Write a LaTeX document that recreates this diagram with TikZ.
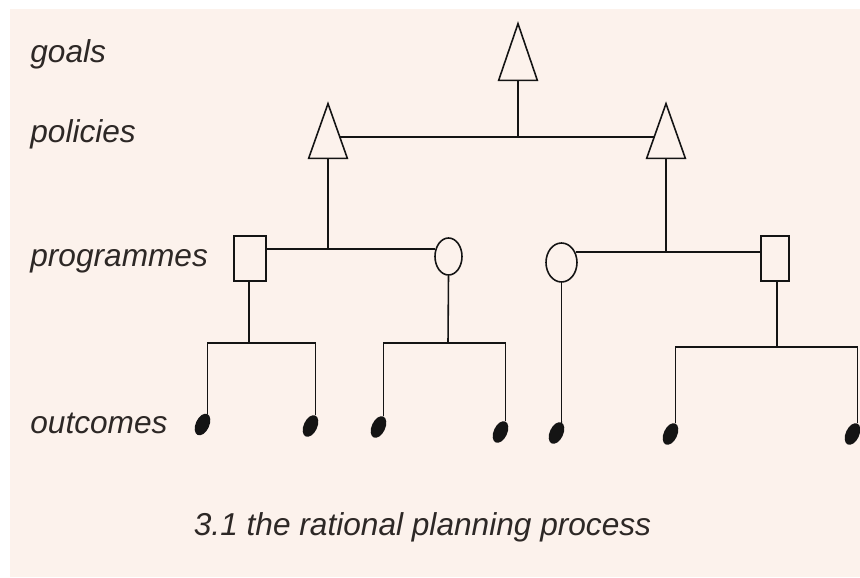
\documentclass[tikz,border=0pt]{standalone}
\usepackage{xcolor}
\usepackage{fontspec}
\setmainfont{Liberation Sans}
\usepackage{tikz}
\usetikzlibrary{shapes.geometric, positioning, calc}
\definecolor{paper}{RGB}{252,242,236}
\definecolor{ink}{RGB}{20,20,20}
\definecolor{pencil}{RGB}{45,40,38}
\tikzset{
  tri/.style={rectangle, draw=none, minimum width=0.76cm, minimum height=1.08cm,
    inner sep=0pt},
  box/.style={rectangle, draw=ink, fill=paper, minimum width=0.6cm,
    minimum height=0.9cm, inner sep=0pt, line width=0.9pt},
  ring/.style={ellipse, draw=ink, fill=paper, minimum width=0.56cm,
    minimum height=0.76cm, inner sep=0pt, line width=0.9pt},
  blob/.style={ellipse, fill=ink, minimum width=0.27cm, minimum height=0.46cm,
    inner sep=0pt, rotate=-25},
  levellabel/.style={anchor=base west, font=\itshape\fontsize{18}{20}\selectfont,
    color=pencil, inner sep=0pt},
  wire/.style={line width=0.9pt, color=ink}
}

\begin{document}
\begin{tikzpicture}
  \useasboundingbox (0,0) rectangle (17.2,11.54);
  \fill[paper] (0.2,0) rectangle (17.2,11.36);

  % ── Level labels ───────────────────────────────────────────────────────────
  \node[levellabel] (lgoals) at (0.6,10.28) {goals};
  \node[levellabel] (lpolicies) at (0.6,8.68) {policies};
  \node[levellabel] (lprogrammes) at (0.6,6.20) {programmes};
  \node[levellabel] (loutcomes) at (0.6,2.88) {outcomes};

  % ── Goal and policies (triangles) ─────────────────────────────────────────
  \node[tri, minimum height=1.12cm] (goal) at (10.36,10.50) {};
  \node[tri] (polL) at (6.56,8.92) {};
  \node[tri] (polR) at (13.32,8.92) {};
  \foreach \t in {goal, polL, polR}
    \draw[wire, line join=miter] (\t.south west) -- (\t.north) -- (\t.south east) -- cycle;

  \coordinate (hL) at ($(polL.north)!0.61!(polL.south east)$);
  \coordinate (hR) at ($(polR.north)!0.61!(polR.south west)$);
  \draw[wire] (hL) -- (hR);
  \draw[wire] (goal.south) -- (goal.south |- hL);

  % ── Programmes ─────────────────────────────────────────────────────────────
  \node[box, minimum width=0.64cm] (progA) at (5.00,6.37) {};
  \node[ring, minimum width=0.54cm, minimum height=0.74cm] (progB) at (8.97,6.41) {};
  \node[ring, minimum width=0.62cm, minimum height=0.78cm] (progC) at (11.23,6.29) {};
  \node[box, minimum width=0.56cm] (progD) at (15.50,6.37) {};

  \draw[wire] (progB.150) -- (progB.150 -| progA.east);
  \draw[wire] (polL.south) -- (polL.south |- progB.150);
  \draw[wire] (progC.36) -- (progC.36 -| progD.west);
  \draw[wire] (polR.south) -- (polR.south |- progC.36);

  % ── Outcomes ───────────────────────────────────────────────────────────────
  \node[blob] (out1) at (4.05,3.05) {};
  \node[blob] (out2) at (6.21,3.02) {};
  \node[blob] (out3) at (7.57,3.00) {};
  \node[blob] (out4) at (10.01,2.90) {};
  \node[blob] (out5) at (11.13,2.88) {};
  \node[blob] (out6) at (13.41,2.86) {};
  \node[blob] (out7) at (17.05,2.86) {};

  \coordinate (jA) at (4.98,4.68);
  \coordinate (jB) at (8.96,4.68);
  \coordinate (jD) at (15.54,4.60);

  \draw[wire] (progA.south -| jA) -- (jA);
  \draw[wire] (out1.north) |- (jA) -| (out2.north);
  \draw[wire] (progB.south) -- (jB);
  \draw[wire] (out3.north) |- (jB) -| (out4.north);
  \draw[wire] (progC.south) -- (progC.south |- out5.north) -- (out5.north);
  \draw[wire] (progD.south -| jD) -- (jD);
  \draw[wire] (out6.north) |- (jD) -| (out7.north);

  % ── Caption ────────────────────────────────────────────────────────────────
  \node[anchor=base, font=\itshape\fontsize{18}{20}\selectfont, color=pencil,
    inner sep=0pt] (caption) at (8.45,0.84) {3.1 the rational planning process};
\end{tikzpicture}
\end{document}
